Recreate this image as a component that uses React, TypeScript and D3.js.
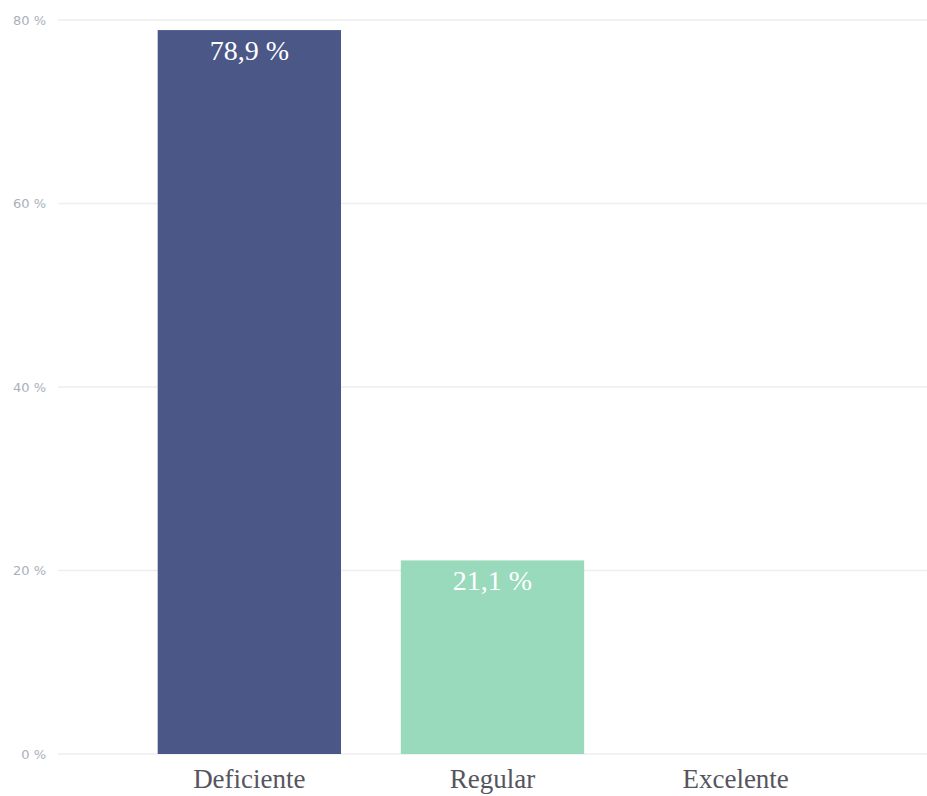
import React from "react";
import * as d3 from "d3";

const categories = ["Deficiente", "Regular", "Excelente"];
const values = [78.9, 21.1, 0];
const valueLabels = ["78,9 %", "21,1 %", ""];
const colors = ["#4a5787", "#98dabb", "#f2b880"];
const yTicks = [0, 20, 40, 60, 80];

export default function App() {
  const W = 927;
  const H = 796;
  const x = d3
    .scaleBand<string>()
    .domain(categories)
    .range([58, 927])
    .paddingInner(0.246)
    .paddingOuter(0.41);
  const y = d3.scaleLinear().domain([0, 80]).range([754, 20]);

  return (
    <svg
      width={W}
      height={H}
      style={{ position: "absolute", left: 0, top: 0, background: "#fff" }}
    >
      {yTicks.map((t) => (
        <g key={t}>
          <line x1={58} x2={927} y1={y(t)} y2={y(t)} stroke="#eeeeee" strokeWidth={1.5} />
          <text
            x={46}
            y={y(t)}
            dy="0.35em"
            textAnchor="end"
            fontFamily="'DejaVu Sans', sans-serif"
            fontSize={13}
            fill="#aab0ba"
          >
            {t + " %"}
          </text>
        </g>
      ))}
      {categories.map((c, i) => (
        <g key={c}>
          {values[i] > 0 && (
            <rect
              x={x(c)!}
              y={y(values[i])}
              width={x.bandwidth()}
              height={y(0) - y(values[i])}
              fill={colors[i]}
            />
          )}
          {values[i] > 0 && (
            <text
              x={x(c)! + x.bandwidth() / 2}
              y={y(values[i]) + 30}
              textAnchor="middle"
              fontFamily="'Liberation Serif', serif"
              fontSize={28}
              fill="#ffffff"
            >
              {valueLabels[i]}
            </text>
          )}
          <text
            x={x(c)! + x.bandwidth() / 2}
            y={788}
            textAnchor="middle"
            fontFamily="'Liberation Serif', serif"
            fontSize={27}
            fill="#555560"
          >
            {c}
          </text>
        </g>
      ))}
    </svg>
  );
}
